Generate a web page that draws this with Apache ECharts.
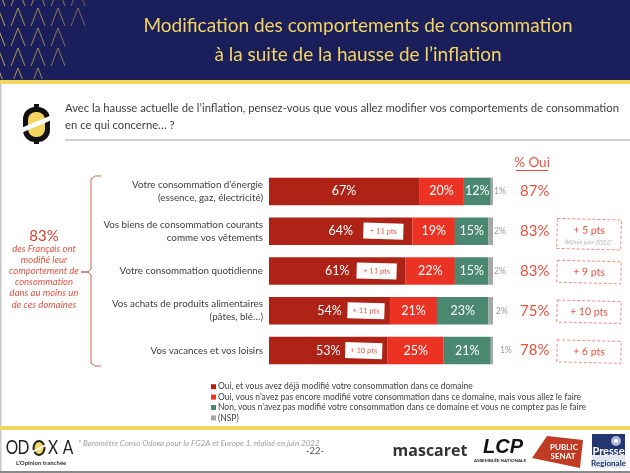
<!DOCTYPE html>
<html>
<head>
<meta charset="utf-8">
<title>Modification des comportements de consommation</title>
<script src="https://cdn.jsdelivr.net/npm/echarts@6/dist/echarts.min.js"></script>
<style>
html,body{margin:0;padding:0;background:#fff;}
#chart{width:630px;height:473px;}
</style>
</head>
<body>
<div id="chart"></div>
<script>
var categories = [
    'Votre consommation d\u2019énergie\n(essence, gaz, électricité)',
    'Vos biens de consommation courants\ncomme vos vêtements',
    'Votre consommation quotidienne',
    'Vos achats de produits alimentaires\n(pâtes, blé…)',
    'Vos vacances et vos loisirs'
];
var dejaModifie = [67, 64, 61, 54, 53];
var vaModifier = [20, 19, 22, 21, 25];
var neModifiePas = [12, 15, 15, 23, 21];
var nsp = [1, 2, 2, 2, 1];
var ouiTotal = ['87%', '83%', '83%', '75%', '78%'];
var hausseOui = ['', '+ 11 pts', '+ 11 pts', '+ 11 pts', '+ 10 pts'];
var evolution = ['', '+ 5 pts', '+ 9 pts', '+ 10 pts', '+ 6 pts'];
var seriesNames = [
    'Oui, et vous avez déjà modifié votre consommation dans ce domaine',
    'Oui, vous n\u2019avez pas encore modifié votre consommation dans ce domaine, mais vous allez le faire',
    'Non, vous n\u2019avez pas modifié votre consommation dans ce domaine et vous ne comptez pas le faire',
    '(NSP)'
];
var sideLines = ['des Français ont', 'modifié leur', 'comportement de', 'consommation', 'dans au moins un', 'de ces domaines'];

var FONT = 'Lato';
var DARK = '#ae2316', RED = '#ec3323', GREEN = '#4a8871', GREY = '#a6a6a6';
var SOFT_RED = '#e8503c', NAVY = '#1a1f5c', GOLD = '#f3d560';

var myChart = echarts.init(document.getElementById('chart'), null, {renderer: 'canvas'});

function txt(x, y, text, size, color, align, extra) {
    var style = {x: x, y: y, text: text, fontSize: size, fill: color, fontFamily: FONT,
        align: align || 'left', verticalAlign: 'middle'};
    for (var k in extra || {}) { style[k] = extra[k]; }
    return {type: 'text', style: style, silent: true, z2: 3};
}
function box(x, y, w, h, fill, r) {
    return {type: 'rect', shape: {x: x, y: y, width: w, height: h, r: r || 0}, style: {fill: fill}, silent: true, z2: 1};
}
function letter(cx, ch) {
    return {type: 'text', x: cx, y: 448, scaleX: 0.78, silent: true, z2: 3,
        style: {x: 0, y: 0, text: ch, fontSize: 20, fill: '#222', fontFamily: FONT, align: 'center', verticalAlign: 'middle'}};
}

// decor: header, footer, logos
var decor = [
    box(0, 0, 630, 80, NAVY),
    box(0, 80, 630, 4, GOLD),
    box(0, 84, 1.5, 389, '#c8c8c8'),
    box(0, 426, 630, 4, GOLD),
    box(0, 471, 630, 2, '#8a8a8a'),
    box(65, 139, 565, 2, '#d0d0d0')
];
for (var r = 0; r < 5; r++) {
    for (var c = 0; c < 6; c++) {
        var ax = -2 + c * 20, ay = -12 + r * 20;
        var legY = Math.min(ay + 18, 79);
        if (ax + 7 > 98 - ay * 0.55) { continue; }
        var legX = 7 * (legY - ay) / 18;
        decor.push({type: 'polyline', silent: true, z2: 2,
            shape: {points: [[ax - legX, legY], [ax, ay], [ax + legX, legY]]},
            style: {stroke: '#d0ae52', lineWidth: 1, fill: null, opacity: 0.9 - (c * 0.1)}});
    }
}
decor.push(
    txt(358, 26, 'Modification des comportements de consommation', 19, GOLD, 'center'),
    txt(358, 55, 'à la suite de la hausse de l\u2019inflation', 19, GOLD, 'center'),
    // question logo
    box(23, 107, 27, 35, '#111', 12),
    box(34, 104, 5, 4, '#111'),
    box(34, 141, 5, 3, '#111'),
    {type: 'rect', silent: true, z2: 2, shape: {x: 28, y: 112, width: 17, height: 25, r: 8}, style: {fill: GOLD}},
    {type: 'polygon', silent: true, z2: 3, shape: {points: [[21, 128], [52, 115], [52, 120], [21, 133]]}, style: {fill: '#fff'}},
    txt(65, 108, 'Avec la hausse actuelle de l\u2019inflation, pensez-vous que vous allez modifier vos comportements de consommation', 11.3, '#404040'),
    txt(65, 125, 'en ce qui concerne… ?', 11.3, '#404040'),
    // % Oui header
    txt(532, 163, '% Oui', 13.5, SOFT_RED, 'center'),
    box(516, 170, 32, 1, SOFT_RED),
    // left brace
    {type: 'polyline', silent: true,
        shape: {points: [[101, 176], [95, 176], [91, 179], [91, 269], [88, 272], [81, 272], [88, 272], [91, 275], [91, 363], [95, 366], [101, 366]]},
        style: {stroke: '#d9604f', lineWidth: 1, fill: null}},
    txt(44, 236, '83%', 15, '#d8432f', 'center')
);
sideLines.forEach(function (line, i) {
    decor.push(txt(44, 249 + i * 11.1, line, 9.5, '#e0523f', 'center', {fontStyle: 'italic'}));
});
decor.push(
    // footer
    letter(12, 'O'),
    letter(23.5, 'D'),
    {type: 'ellipse', silent: true, z2: 2, shape: {cx: 39, cy: 448, rx: 5.5, ry: 7}, style: {fill: GOLD, stroke: '#222', lineWidth: 2}},
    {type: 'polygon', silent: true, z2: 3, shape: {points: [[32, 451], [46, 444], [46, 446], [32, 453]]}, style: {fill: '#fff'}},
    letter(53, 'X'),
    letter(68, 'A'),
    txt(16, 463, 'L\u2019Opinion tranchée', 6, '#333', 'left', {fontWeight: 'bold'}),
    txt(78, 443.5, '* Baromètre Conso Odoxa pour la FG2A et Europe 1, réalisé en juin 2022', 8, '#a0a0a0', 'left', {fontStyle: 'italic'}),
    txt(315, 451, '-22-', 9.5, '#555', 'center'),
    txt(430, 451, 'mascaret', 16, '#333', 'center', {fontWeight: 'bold', fontFamily: 'Open Sans'}),
    txt(503, 447, 'LCP', 20, '#111', 'center', {fontWeight: 'bold', fontStyle: 'italic', fontFamily: 'Liberation Sans'}),
    txt(500, 461, 'ASSEMBLÉE NATIONALE', 4.5, '#222', 'center', {fontWeight: 'bold'}),
    {type: 'polygon', silent: true, z2: 2, shape: {points: [[547, 436], [583, 440], [580, 468], [532, 458]]}, style: {fill: '#c13a23'}},
    txt(564, 447, 'PUBLIC', 8, '#fff', 'center', {fontWeight: 'bold'}),
    txt(563, 456, 'SENAT', 8, '#fff', 'center', {fontWeight: 'bold'}),
    box(592, 434, 33, 34, '#dfe6f0'),
    {type: 'rect', silent: true, z2: 2, shape: {x: 592, y: 434, width: 33, height: 21}, style: {fill: '#23366f'}},
    {type: 'circle', silent: true, z2: 3, shape: {cx: 616, cy: 441, r: 5}, style: {fill: '#aab8d8'}},
    {type: 'circle', silent: true, z2: 4, shape: {cx: 616, cy: 441, r: 2}, style: {fill: '#fff'}},
    txt(608.5, 451, 'Presse', 11, '#fff', 'center', {fontWeight: 'bold'}),
    txt(608.5, 463, 'Regionale', 8, '#23366f', 'center', {fontWeight: 'bold'})
);

function stackBar(name, values, color) {
    return {
        name: name, type: 'bar', stack: 'total', barWidth: 27.5, data: values,
        itemStyle: {color: color},
        label: {show: true, position: 'inside', formatter: '{c}%', color: '#fff', fontSize: 12.5, fontFamily: FONT}
    };
}

// gap between the NSP bar end and its label
var nspOffsets = [0, 0, 0, 2, 6];
var nspSeries = stackBar(seriesNames[3], nsp.map(function (v, i) {
    return {value: v, label: {offset: [nspOffsets[i], 0]}};
}), GREY);
nspSeries.label = {show: true, position: 'right', distance: 1, formatter: '{c}%', color: '#999', fontSize: 8.5, fontFamily: FONT};

// pill sits inside the dark bar, back from its end
var pillBack = [0, 29, 29, 24, 24];
var pillWidth = [0, 40, 40, 37, 37];
var pillSeries = {
    type: 'custom', silent: true, clip: false, z: 5,
    data: dejaModifie.map(function (v, i) { return [v, i]; }),
    renderItem: function (params, api) {
        var i = params.dataIndex;
        if (!hausseOui[i]) { return null; }
        var p = api.coord([api.value(0), api.value(1)]);
        var w = pillWidth[i];
        return {
            type: 'group', x: p[0] - pillBack[i], y: p[1], rotation: -0.03,
            children: [
                {type: 'rect', shape: {x: -w / 2, y: -8, width: w, height: 16}, style: {fill: '#fff'}},
                {type: 'text', style: {x: 0, y: 0, text: hausseOui[i], fontSize: 7.5, fontFamily: FONT,
                    fill: SOFT_RED, align: 'center', verticalAlign: 'middle'}}
            ]
        };
    }
};

// dashed evolution boxes, right of the % Oui column
var evolutionSeries = {
    type: 'custom', silent: true, clip: false, z: 5,
    data: evolution.map(function (v, i) { return [100, i]; }),
    renderItem: function (params, api) {
        var i = params.dataIndex;
        if (!evolution[i]) { return null; }
        var p = api.coord([api.value(0), api.value(1)]);
        var tall = i === 1;
        var h = tall ? 30 : 22;
        var children = [
            {type: 'rect', shape: {x: -32, y: -h / 2, width: 64, height: h},
                style: {fill: null, stroke: '#ee8d80', lineWidth: 1, lineDash: [3, 2]}},
            {type: 'text', style: {x: 0, y: tall ? -4 : 0, text: evolution[i], fontSize: 10.5, fontFamily: FONT,
                fill: SOFT_RED, align: 'center', verticalAlign: 'middle'}}
        ];
        if (tall) {
            children.push({type: 'text', style: {x: 0, y: 8, text: 'depuis juin 2022*', fontSize: 6.5, fontFamily: FONT,
                fontStyle: 'italic', fill: '#b5b5b5', align: 'center', verticalAlign: 'middle'}});
        }
        return {type: 'group', x: p[0] + 96, y: p[1] + (tall ? 3 : 1), rotation: -0.025, children: children};
    }
};

myChart.setOption({
    animation: false,
    backgroundColor: '#fff',
    textStyle: {fontFamily: FONT},
    grid: {left: 269, right: 137, top: 171.5, height: 199, containLabel: false},
    legend: {
        orient: 'vertical', left: 211, top: 381.5, itemWidth: 5, itemHeight: 5, itemGap: 0,
        icon: 'rect', selectedMode: false, padding: 0,
        data: seriesNames,
        textStyle: {fontSize: 8.5, color: '#404040', fontFamily: FONT, padding: [0, 0, 0, -3], lineHeight: 10.4}
    },
    xAxis: {type: 'value', min: 0, max: 100, show: false},
    yAxis: [{
        type: 'category', inverse: true, data: categories,
        axisLine: {show: false}, axisTick: {show: false},
        axisLabel: {margin: 6, fontSize: 9.8, color: '#404040', fontFamily: FONT, lineHeight: 13, align: 'right', interval: 0}
    }, {
        type: 'category', inverse: true, position: 'right', data: ouiTotal,
        axisLine: {show: false}, axisTick: {show: false},
        axisLabel: {margin: 27, fontSize: 15, color: SOFT_RED, fontFamily: FONT, interval: 0}
    }],
    graphic: {elements: decor},
    series: [
        stackBar(seriesNames[0], dejaModifie, DARK),
        stackBar(seriesNames[1], vaModifier, RED),
        stackBar(seriesNames[2], neModifiePas, GREEN),
        nspSeries,
        pillSeries,
        evolutionSeries
    ]
});
</script>
</body>
</html>
